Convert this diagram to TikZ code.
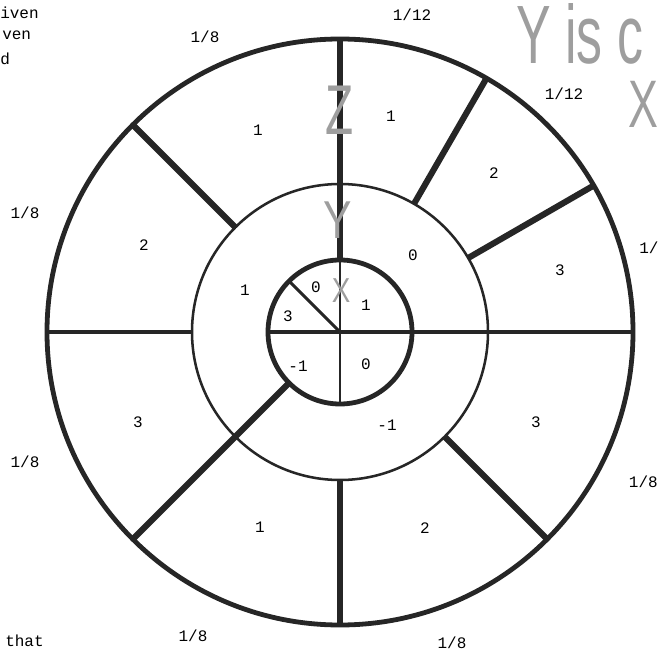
\documentclass[tikz,border=0pt]{standalone}
\usepackage{fontspec}
\setmainfont{Liberation Sans}
\setmonofont{Liberation Mono}
\usetikzlibrary{calc}

\begin{document}
\begin{tikzpicture}[
        x=0.75pt, y=0.75pt,
        ring/.style={draw=black!85, line width=3.6pt},
        midring/.style={draw=black!85, line width=1.9pt},
        spoke/.style={black!85, line width=4.6pt},
        bar/.style={black!85, line width=3pt},
        cross/.style={black!85, line width=2.2pt},
        val/.style={font=\ttfamily\fontsize{12}{14}\selectfont, inner sep=0pt},
        prob/.style={font=\ttfamily\fontsize{12}{14}\selectfont, inner sep=0pt},
        hand/.style={text=black!38, inner sep=0pt}
    ]
    \useasboundingbox (0,0) rectangle (660,654);
    \coordinate (c) at (340,322);

    % Spokes of the outer ring
    \draw[spoke] ($(c)+(90:72)$) -- ($(c)+(90:293)$);
    \draw[spoke] ($(c)+(60:148)$) -- ($(c)+(60:293)$);
    \draw[spoke] ($(c)+(30:148)$) -- ($(c)+(30:293)$);
    \draw[bar] ($(c)+(0:72)$) -- ($(c)+(0:293)$);
    \draw[spoke] ($(c)+(-45:148)$) -- ($(c)+(-45:293)$);
    \draw[spoke] ($(c)+(-90:148)$) -- ($(c)+(-90:293)$);
    \draw[spoke] ($(c)+(225:72)$) -- ($(c)+(225:293)$);
    \draw[bar] ($(c)+(180:148)$) -- ($(c)+(180:293)$);
    \draw[spoke] ($(c)+(135:148)$) -- ($(c)+(135:293)$);

    % Inner disc
    \draw[cross, line width=2.6pt] ($(c)+(180:72)$) -- ($(c)+(0:72)$);
    \draw[cross, line width=1.9pt] ($(c)+(90:72)$) -- ($(c)+(-90:72)$);
    \draw[cross] (c) -- ($(c)+(135:72)$);

    % Rings
    \draw[ring] (c) circle (293);
    \draw[midring] (c) circle (148);
    \draw[ring] (c) circle (72);

    % Outer ring values
    \node[val] (o1) at (258,524) {1};
    \node[val] (o2) at (391,538) {1};
    \node[val] (o3) at (494,481) {2};
    \node[val] (o4) at (560,384) {3};
    \node[val] (o5) at (536,232) {3};
    \node[val] (o6) at (425,126) {2};
    \node[val] (o7) at (260,127) {1};
    \node[val] (o8) at (138,232) {3};
    \node[val] (o9) at (144,409) {2};

    % Middle ring values
    \node[val] (m1) at (245,364) {1};
    \node[val] (m2) at (413,399) {0};
    \node[val] (m3) at (387,229) {-1};

    % Inner disc values
    \node[val] (i1) at (316,367) {0};
    \node[val] (i2) at (288,338) {3};
    \node[val] (i3) at (366,349) {1};
    \node[val] (i4) at (298,288) {-1};
    \node[val] (i5) at (366,290) {0};

    % Probabilities round the wheel
    \node[prob] (p1) at (205,617) {1/8};
    \node[prob] (p2) at (412,639) {1/12};
    \node[prob] (p3) at (564,560) {1/12};
    \node[prob] (p4) at (25,441) {1/8};
    \node[prob, anchor=west] (p5) at (639,406) {1/};
    \node[prob] (p6) at (25,192) {1/8};
    \node[prob, anchor=east] (p7) at (658,172) {1/8};
    \node[prob] (p8) at (193,18) {1/8};
    \node[prob] (p9) at (452,11) {1/8};

    % Cut-off margin text
    \node[prob, anchor=base west] (t1) at (0,635) {iven};
    \node[prob, anchor=base west] (t2) at (2,614) {ven};
    \node[prob, anchor=base west] (t3) at (0,589) {d};
    \node[prob, anchor=base west] (t4) at (5,8) {that};

    % Handwriting
    \node[hand, font=\fontsize{46}{50}\selectfont] (hz) at (340,544) {\scalebox{0.75}[1.15]{Z}};
    \node[hand, font=\fontsize{40}{44}\selectfont] (hy) at (338,434) {\scalebox{0.8}[1]{Y}};
    \node[hand, font=\fontsize{26}{30}\selectfont] (hx) at (341,363) {\scalebox{0.8}[1]{X}};
    \node[hand, anchor=base west, font=\fontsize{54}{58}\selectfont] (note) at (516,590) {\scalebox{0.72}[1.15]{Y is c}};
    \node[hand, anchor=base east, font=\fontsize{48}{52}\selectfont] (notex) at (659,526) {\scalebox{0.7}[1.05]{X}};
\end{tikzpicture}
\end{document}
